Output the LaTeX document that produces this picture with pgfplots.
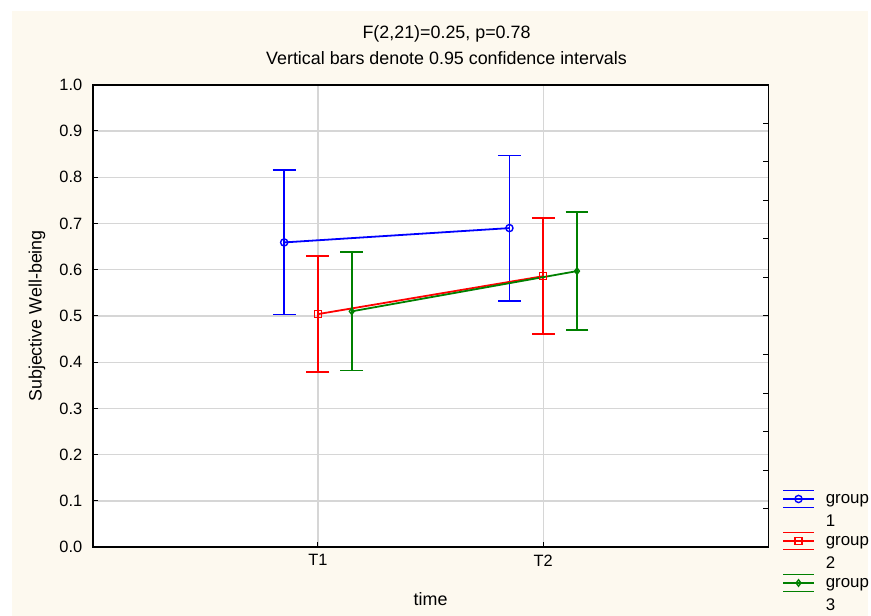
\documentclass[border=0pt]{standalone}
\usepackage{fontspec}
\setmainfont{Liberation Sans}
\usepackage{pgfplots}
\pgfplotsset{compat=1.18}

\definecolor{cream}{RGB}{253,249,239}
\definecolor{gridgray}{RGB}{214,214,214}
\definecolor{sblue}{RGB}{0,0,255}
\definecolor{sred}{RGB}{255,0,0}
\definecolor{sgreen}{RGB}{0,128,0}

\newcommand{\titlefont}{\fontsize{18}{22}\selectfont}
\newcommand{\tickfont}{\fontsize{16.5}{20}\selectfont}
\newcommand{\legfont}{\fontsize{17}{23}\selectfont}

% legend image: the error-bar glyph (three horizontal strokes and a marker)
\pgfplotsset{
  errleg/.style 2 args={
    legend image code/.code={
      \draw[#1, line width=1.8bp] (0bp,3.5bp) -- (31bp,3.5bp)
        (0bp,12bp) -- (31bp,12bp) (0bp,20.5bp) -- (31bp,20.5bp);
      \path (40bp,12bp);
      \draw[#1, line width=1.4bp] plot[#2] coordinates {(15.5bp,12bp)};
    }
  },
  errplot/.style={
    #1, line width=1.8bp,
    error bars/error bar style={#1, line width=1.8bp},
    error bars/error mark options={#1, mark size=11.5bp, line width=1.8bp},
  },
}

% means at T1/T2 with 0.95 confidence half-widths
\pgfplotstableread{
x     y      e
0.85  0.659  0.156
1.85  0.690  0.157
}\groupone
\pgfplotstableread{
x     y      e
1.00  0.504  0.125
2.00  0.586  0.125
}\grouptwo
\pgfplotstableread{
x     y      e
1.15  0.510  0.128
2.15  0.597  0.127
}\groupthree

\begin{document}
\begin{tikzpicture}[font=\titlefont]
  \fill[white] (0bp,0bp) rectangle (871bp,618bp);
  \fill[cream] (12bp,0bp) rectangle (871bp,607bp);
  \node at (448bp,584bp) {F(2,21)=0.25, p=0.78};
  \node at (448bp,560bp) {Vertical bars denote 0.95 confidence intervals};

  \begin{axis}[
    at={(93bp,69bp)}, anchor=south west,
    scale only axis, width=678bp, height=464bp,
    xmin=0, xmax=3, ymin=0, ymax=1,
    xtick={1,2}, xticklabels={T1,T2},
    ytick={0,0.1,0.2,0.3,0.4,0.5,0.6,0.7,0.8,0.9,1.0},
    extra y ticks={0.08333,0.16667,0.25,0.33333,0.41667,0.5,0.58333,0.66667,0.75,0.83333,0.91667},
    extra y tick style={grid=none, ytick pos=right, yticklabels={}},
    yticklabel style={xshift=-7bp, /pgf/number format/fixed,
      /pgf/number format/fixed zerofill, /pgf/number format/precision=1},
    /pgf/number format/assume math mode=true,
    tick align=inside, xtick pos=bottom, ytick pos=left,
    major tick length=5bp,
    tick style={black, line width=1bp},
    grid=major, major grid style={gridgray, line width=1.3bp},
    axis line style={black, line width=1.8bp},
    axis background/.style={fill=white},
    tick label style={font=\tickfont},
    label style={font=\titlefont},
    xticklabel style={yshift=-4bp},
    xlabel={time}, ylabel={Subjective Well-being},
    xlabel style={at={(axis description cs:0.5,-0.112)}, anchor=center},
    ylabel style={at={(axis description cs:-0.0826,0.5)}, anchor=center},
    legend style={at={(axis description cs:1.02,0.125)}, anchor=north west,
      draw=none, fill=none, inner sep=0pt, font=\legfont,
      cells={anchor=west, align=left}, row sep=2bp},
    error bars/y dir=both, error bars/y explicit,
    error bars/error mark=|,
  ]
    \addplot[errplot=sblue, mark=o, mark size=3.6bp, mark options={line width=1.4bp},
      errleg={sblue}{mark=o, mark size=3.6bp}]
      table[x=x, y=y, y error=e] {\groupone};
    \addplot[errplot=sred, mark=square, mark size=3.5bp, mark options={line width=1.4bp},
      errleg={sred}{mark=square, mark size=3.5bp}]
      table[x=x, y=y, y error=e] {\grouptwo};
    \addplot[errplot=sgreen, mark=diamond, mark size=3.2bp, mark options={line width=1.4bp},
      errleg={sgreen}{mark=diamond, mark size=3.2bp}]
      table[x=x, y=y, y error=e] {\groupthree};
    \legend{group\\1, group\\2, group\\3}
  \end{axis}
\end{tikzpicture}
\end{document}
